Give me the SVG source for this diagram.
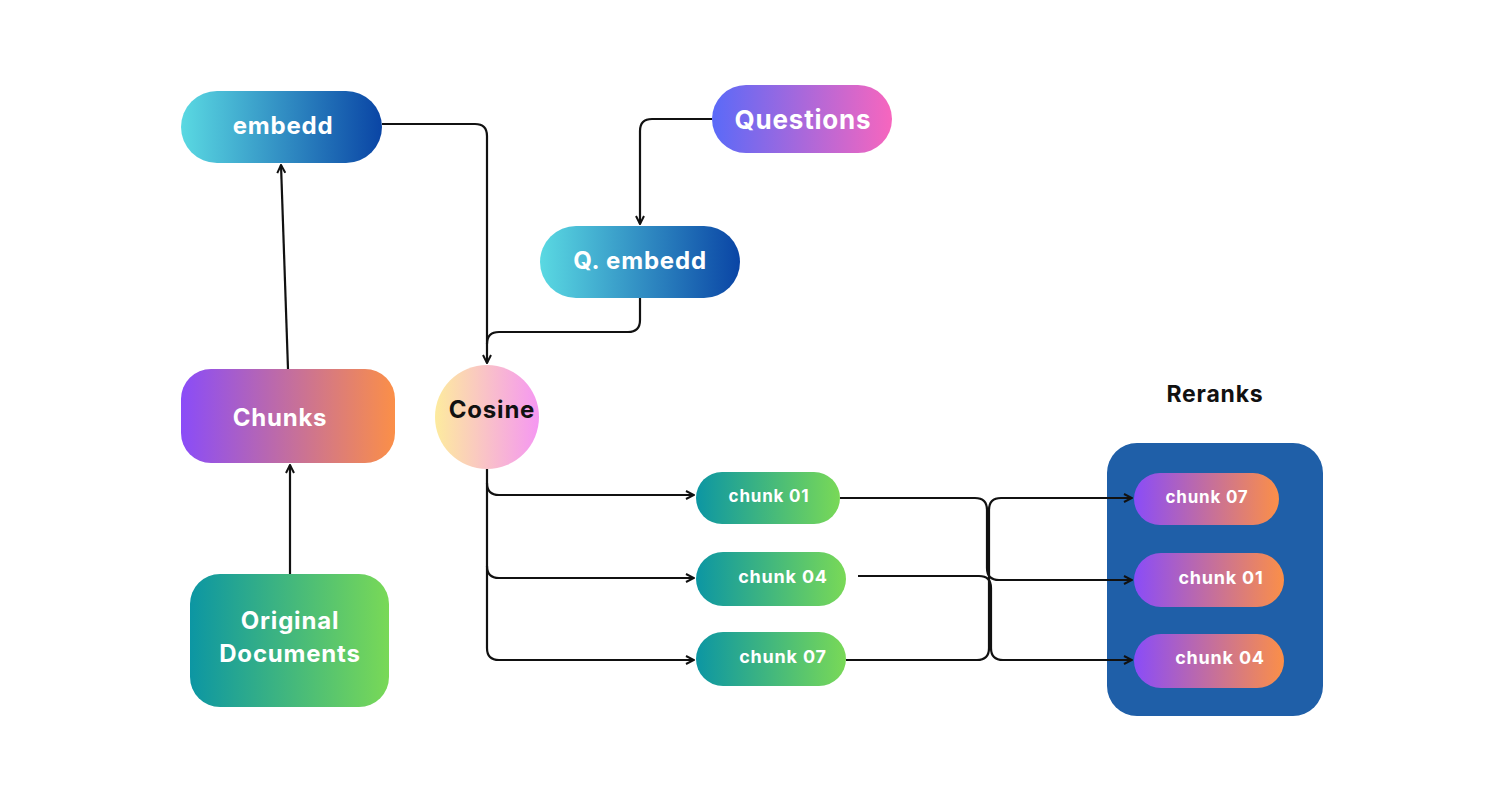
<svg xmlns="http://www.w3.org/2000/svg" width="1496" height="806" viewBox="0 0 1496 806">
<defs>
<linearGradient id="gBlue" x1="0" y1="0" x2="1" y2="0"><stop offset="0" stop-color="#5ad9e2"/><stop offset="1" stop-color="#0a45a5"/></linearGradient>
<linearGradient id="gQ" x1="0" y1="0" x2="1" y2="0"><stop offset="0" stop-color="#5a6af8"/><stop offset="1" stop-color="#f766be"/></linearGradient>
<linearGradient id="gPO" x1="0" y1="0" x2="1" y2="0"><stop offset="0" stop-color="#8a4cf8"/><stop offset="1" stop-color="#fb8f48"/></linearGradient>
<linearGradient id="gTG" x1="0" y1="0" x2="1" y2="0"><stop offset="0" stop-color="#0c96a3"/><stop offset="1" stop-color="#79d957"/></linearGradient>
<linearGradient id="gCos" x1="0" y1="0" x2="1" y2="0"><stop offset="0" stop-color="#fdeb9e"/><stop offset="1" stop-color="#f597f2"/></linearGradient>
<marker id="arr" viewBox="0 0 10 10" refX="9" refY="5" markerWidth="10" markerHeight="10" markerUnits="userSpaceOnUse" orient="auto"><path d="M1,1 L9,5 L1,9" fill="none" stroke="#111" stroke-width="2"/></marker>
<style>
.lbl{font-family:"Inter","Liberation Sans",sans-serif;font-weight:700;fill:#fff;text-anchor:middle;dominant-baseline:central;letter-spacing:0.8px}
.c{fill:none;stroke:#111;stroke-width:2.2}
</style>
</defs>
<rect width="1496" height="806" fill="#fff"/>
<g id="reranks">
<text x="1215" y="394" font-family="Inter,'Liberation Sans',sans-serif" font-weight="700" font-size="23" fill="#111" text-anchor="middle" dominant-baseline="central" letter-spacing="0.8">Reranks</text>
<rect x="1107" y="443" width="216" height="273" rx="30" fill="#1f5fa8"/>
</g>
<g id="connectors">
<path class="c" d="M382,124 H475 Q487,124 487,136 V363" marker-end="url(#arr)"/>
<path class="c" d="M712,119 H652 Q640,119 640,131 V224" marker-end="url(#arr)"/>
<path class="c" d="M640,298 V320 Q640,332 628,332 H499 Q487,332 487,344"/>
<path class="c" d="M288,369 L281,165" marker-end="url(#arr)"/>
<path class="c" d="M290,574 V465" marker-end="url(#arr)"/>
<path class="c" d="M487,469 V648 Q487,660 499,660 H694" marker-end="url(#arr)"/>
<path class="c" d="M487,483 Q487,495 499,495 H694" marker-end="url(#arr)"/>
<path class="c" d="M487,566 Q487,578 499,578 H694" marker-end="url(#arr)"/>
<path class="c" d="M840,498 H975 Q987,498 987,510 V568 Q987,580 999,580 H1132" marker-end="url(#arr)"/>
<path class="c" d="M858,576 H979 Q991,576 991,588 V648 Q991,660 1003,660 H1132" marker-end="url(#arr)"/>
<path class="c" d="M846,660 H977 Q989,660 989,648 V510 Q989,498 1001,498 H1132" marker-end="url(#arr)"/>
</g>
<g id="embedd"><rect x="181" y="91" width="201" height="72" rx="36" fill="url(#gBlue)"/><text class="lbl" x="283" y="125" font-size="24">embedd</text></g>
<g id="questions"><rect x="712" y="85" width="180" height="68" rx="34" fill="url(#gQ)"/><text class="lbl" x="803" y="119" font-size="26">Questions</text></g>
<g id="qembedd"><rect x="540" y="226" width="200" height="72" rx="36" fill="url(#gBlue)"/><text class="lbl" x="640" y="260" font-size="24">Q. embedd</text></g>
<g id="chunks"><rect x="181" y="369" width="214" height="94" rx="30" fill="url(#gPO)"/><text class="lbl" x="280" y="417" font-size="24">Chunks</text></g>
<g id="original"><rect x="190" y="574" width="199" height="133" rx="30" fill="url(#gTG)"/><text class="lbl" x="290" y="620" font-size="24">Original</text><text class="lbl" x="290" y="653" font-size="24">Documents</text></g>
<g id="cosine"><circle cx="487" cy="417" r="52" fill="url(#gCos)"/><text class="lbl" x="492" y="409" font-size="24" style="fill:#111">Cosine</text></g>
<g id="chunk01"><rect x="696" y="472" width="144" height="52" rx="26" fill="url(#gTG)"/><text class="lbl" x="769" y="496" font-size="17">chunk 01</text></g>
<g id="chunk04"><rect x="696" y="552" width="150" height="54" rx="27" fill="url(#gTG)"/><text class="lbl" x="783" y="576" font-size="18">chunk 04</text></g>
<g id="chunk07"><rect x="696" y="632" width="150" height="54" rx="27" fill="url(#gTG)"/><text class="lbl" x="783" y="656" font-size="18">chunk 07</text></g>
<g id="r07"><rect x="1134" y="473" width="145" height="52" rx="26" fill="url(#gPO)"/><text class="lbl" x="1207" y="497" font-size="17">chunk 07</text></g>
<g id="r01"><rect x="1134" y="553" width="150" height="54" rx="27" fill="url(#gPO)"/><text class="lbl" x="1221" y="577" font-size="18">chunk 01</text></g>
<g id="r04"><rect x="1134" y="634" width="150" height="54" rx="27" fill="url(#gPO)"/><text class="lbl" x="1220" y="657" font-size="18">chunk 04</text></g>
</svg>
